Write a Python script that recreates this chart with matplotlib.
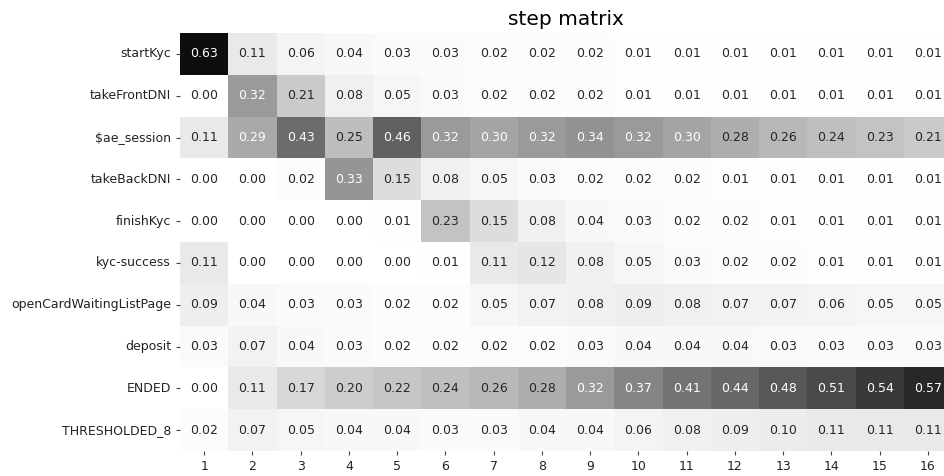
import numpy as np
import pandas as pd
import matplotlib
matplotlib.use("Agg")
import matplotlib.pyplot as plt
import seaborn as sns

events = ["startKyc", "takeFrontDNI", "$ae_session", "takeBackDNI", "finishKyc",
          "kyc-success", "openCardWaitingListPage", "deposit", "ENDED", "THRESHOLDED_8"]
steps = list(range(1, 17))

start_kyc      = [0.63, 0.11, 0.06, 0.04, 0.03, 0.03, 0.02, 0.02, 0.02, 0.01, 0.01, 0.01, 0.01, 0.01, 0.01, 0.01]
take_front_dni = [0.00, 0.32, 0.21, 0.08, 0.05, 0.03, 0.02, 0.02, 0.02, 0.01, 0.01, 0.01, 0.01, 0.01, 0.01, 0.01]
ae_session     = [0.11, 0.29, 0.43, 0.25, 0.46, 0.32, 0.30, 0.32, 0.34, 0.32, 0.30, 0.28, 0.26, 0.24, 0.23, 0.21]
take_back_dni  = [0.00, 0.00, 0.02, 0.33, 0.15, 0.08, 0.05, 0.03, 0.02, 0.02, 0.02, 0.01, 0.01, 0.01, 0.01, 0.01]
finish_kyc     = [0.00, 0.00, 0.00, 0.00, 0.01, 0.23, 0.15, 0.08, 0.04, 0.03, 0.02, 0.02, 0.01, 0.01, 0.01, 0.01]
kyc_success    = [0.11, 0.00, 0.00, 0.00, 0.00, 0.01, 0.11, 0.12, 0.08, 0.05, 0.03, 0.02, 0.02, 0.01, 0.01, 0.01]
open_card_wl   = [0.09, 0.04, 0.03, 0.03, 0.02, 0.02, 0.05, 0.07, 0.08, 0.09, 0.08, 0.07, 0.07, 0.06, 0.05, 0.05]
deposit        = [0.03, 0.07, 0.04, 0.03, 0.02, 0.02, 0.02, 0.02, 0.03, 0.04, 0.04, 0.04, 0.03, 0.03, 0.03, 0.03]
ended          = [0.00, 0.11, 0.17, 0.20, 0.22, 0.24, 0.26, 0.28, 0.32, 0.37, 0.41, 0.44, 0.48, 0.51, 0.54, 0.57]
thresholded_8  = [0.02, 0.07, 0.05, 0.04, 0.04, 0.03, 0.03, 0.04, 0.04, 0.06, 0.08, 0.09, 0.10, 0.11, 0.11, 0.11]

matrix = pd.DataFrame(
    [start_kyc, take_front_dni, ae_session, take_back_dni, finish_kyc,
     kyc_success, open_card_wl, deposit, ended, thresholded_8],
    index=events, columns=steps,
)

fig = plt.figure(figsize=(9.45, 4.76), dpi=100)
ax = fig.add_axes([0.1905, 0.0525, 0.817, 0.878])

sns.heatmap(matrix, ax=ax, cmap="Greys", vmin=0, vmax=0.66, annot=True, fmt=".2f",
            cbar=False, annot_kws={"fontsize": 9})

ax.set_title("step matrix", fontsize=14.5, pad=6)
ax.tick_params(axis="both", labelsize=9, length=3, color="#444444", labelcolor="#222222")
ax.set_yticklabels(events, rotation=0)
ax.set_xticklabels([str(s) for s in steps], rotation=0)

fig.savefig("out.png", dpi=100)
